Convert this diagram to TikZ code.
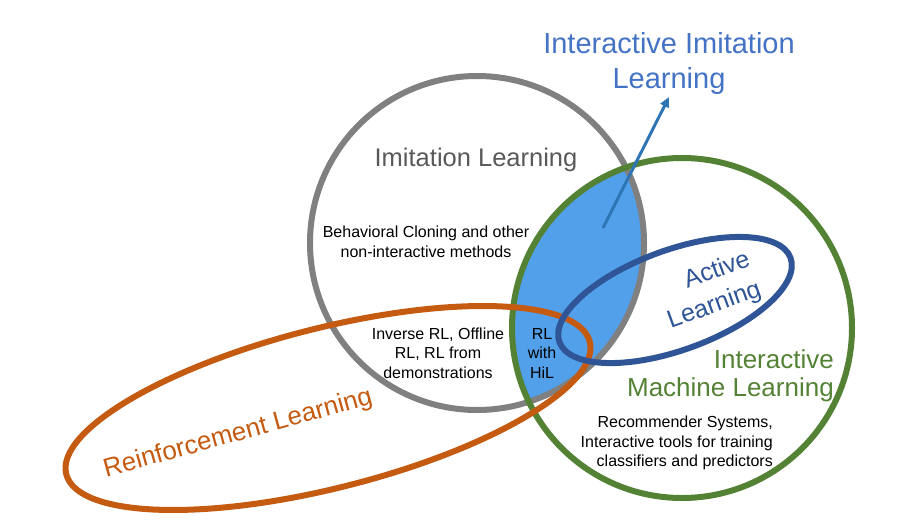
\documentclass[tikz,border=0pt]{standalone}
\usepackage{fontspec}
\setmainfont{Liberation Sans}
\usetikzlibrary{arrows.meta}
\definecolor{cgray}{RGB}{128,128,128}
\definecolor{cgreen}{RGB}{84,130,53}
\definecolor{corange}{RGB}{197,90,17}
\definecolor{cblue}{RGB}{47,85,151}
\definecolor{cfill}{RGB}{82,160,234}
\definecolor{ctitle}{RGB}{68,114,196}
\definecolor{carrow}{RGB}{46,117,182}
\definecolor{ctext}{RGB}{89,89,89}
\begin{document}
\begin{tikzpicture}[x=1pt,y=-1pt,
  ring/.style={line width=6pt},
  small/.style={font=\fontsize{16}{19.5}\selectfont, text=black, inner sep=0pt},
  big/.style={font=\fontsize{26}{28.5}\selectfont, inner sep=0pt},
]
\useasboundingbox (0,0) rectangle (915,530);
\begin{scope}
  \clip (477,243) circle [radius=167pt];
  \fill[cfill] (682,328) circle [radius=170pt];
\end{scope}
\draw[ring, cgray] (477,243) circle [radius=167pt];
\draw[ring, cgreen] (682,328) circle [radius=170pt];
\draw[ring, corange, rotate around={14.2:(328,408)}] (328,408) ellipse [x radius=270pt, y radius=80pt];
\draw[ring, cblue, rotate around={20:(675,300)}] (675,300) ellipse [x radius=123pt, y radius=50pt];

\node[font=\fontsize{25.5}{30}\selectfont, text=ctext, anchor=base, inner sep=0pt] (ilt) at (476,166) {Imitation Learning};
\node[small, align=center] (bc) at (426,242) {Behavioral Cloning and other\\non-interactive methods};
\node[small, align=center] (inv) at (438,353) {Inverse RL, Offline\\RL, RL from\\demonstrations};
\node[small, align=center] (hil) at (542,353) {RL\\with\\HiL};
\node[small, align=right, anchor=east] (rec) at (773,443) {Recommender Systems,\\Interactive tools for training\\classifiers and predictors};
\node[big, text=cgreen, align=right, anchor=east] (iml) at (834,376) {Interactive\\Machine Learning};
\node[font=\fontsize{25}{32}\selectfont, inner sep=0pt, text=cblue, align=right, rotate=20] (al) at (709,291) {Active\\Learning};
\node[big, text=corange, rotate=15.4] (rl) at (238,434) {Reinforcement Learning};
\node[font=\fontsize{29}{35}\selectfont, text=ctitle, align=center, anchor=south, inner sep=2pt] (iil) at (669,97) {Interactive Imitation\\Learning};
\coordinate (arrstart) at (603,228);
\draw[carrow, line width=3pt, -{Triangle[length=10pt,width=9pt]}] (arrstart) -- (iil.south);
\end{tikzpicture}
\end{document}
